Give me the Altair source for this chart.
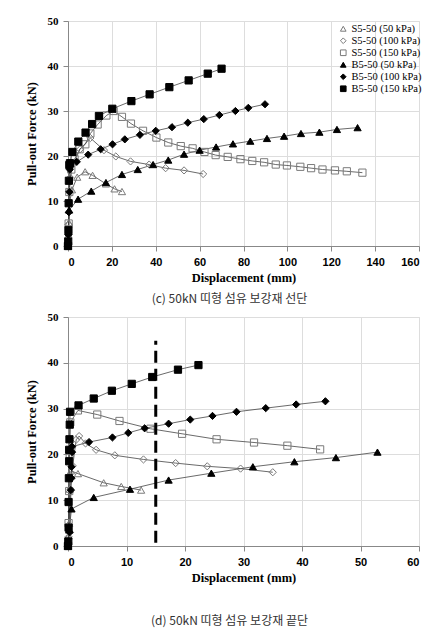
import altair as alt
import pandas as pd

SERIES = ["S5-50 (50 kPa)", "S5-50 (100 kPa)", "S5-50 (150 kPa)",
          "B5-50 (50 kPa)", "B5-50 (100 kPa)", "B5-50 (150 kPa)"]
SHAPES = ["triangle-up", "diamond", "square", "triangle-up", "diamond", "square"]
FILLS = ["transparent", "transparent", "transparent", "black", "black", "black"]
STROKES = ["#7a7a7a", "#7a7a7a", "#7a7a7a", "black", "black", "black"]

# ---- panel (c) ----
c_s50_x = [0, 0.2, 0.4, 0.8, 1.8, 4.2, 7.8, 11.2, 17.3, 21.2, 24.6]
c_s50_y = [0, 2.5, 5.2, 9.8, 12.5, 15.3, 16.5, 15.7, 13.8, 12.7, 12.1]
c_s100_x = [0, 0.2, 0.5, 1.0, 2.5, 5.5, 10.2, 16.4, 21.8, 28.5, 37.0, 44.5, 52.9, 61.6]
c_s100_y = [0, 4.8, 12.2, 15.2, 18.3, 21.5, 24.0, 21.3, 19.9, 18.8, 18.1, 17.3, 16.8, 16.0]
c_s150_x = [0, 0.3, 0.6, 1.5, 3.0, 5.3, 7.9, 10.2, 13.5, 17.5, 20.8, 24.6, 28.7, 34.2, 40.3,
            45.7, 51.4, 56.8, 62.2, 67.3, 72.8, 78.6, 84.0, 89.4, 94.7, 99.8, 105.9, 110.8,
            116.0, 121.7, 127.1, 134.2]
c_s150_y = [0, 5, 12, 17, 19.3, 21.5, 22.6, 25.0, 27.0, 29.0, 30.0, 28.7, 27.2, 25.6, 24.1,
            23.0, 22.2, 21.7, 20.9, 20.2, 19.8, 19.3, 18.9, 18.6, 18.1, 17.9, 17.6, 17.3,
            17.0, 16.8, 16.6, 16.3]
c_b50_x = [0, 0.2, 0.5, 4.6, 10.6, 17.3, 24.6, 31.8, 38.8, 45.7, 52.9, 60.0, 67.5, 75.2,
           83.1, 90.7, 98.5, 106.2, 114.6, 122.6, 132.0]
c_b50_y = [0, 3.2, 8.0, 10.4, 12.2, 14.1, 15.9, 17.0, 18.1, 19.1, 20.4, 21.3, 22.0, 22.7,
           23.3, 23.9, 24.4, 25.0, 25.3, 25.9, 26.3]
c_b100_x = [0, 0.2, 0.4, 0.6, 0.8, 4.0, 9.2, 14.9, 20.3, 25.9, 32.8, 40.0, 47.4, 54.6,
            61.9, 69.0, 76.3, 82.2, 89.8]
c_b100_y = [0, 2.5, 7.5, 12.0, 17.0, 18.7, 20.3, 21.5, 22.6, 23.7, 24.7, 25.6, 26.4, 27.4,
            28.2, 29.1, 30.0, 30.7, 31.5]
c_b150_x = [0, 0.1, 0.2, 0.3, 0.4, 0.6, 0.9, 2.0, 4.7, 8.0, 11.0, 14.1, 20.2, 28.9, 37.2,
            46.2, 55.0, 63.7, 70.0]
c_b150_y = [0, 1.0, 3.5, 9.5, 14.5, 18.0, 18.4, 20.9, 23.2, 25.2, 27.1, 28.9, 30.5, 32.2,
            33.7, 35.3, 36.8, 38.3, 39.4]

# ---- panel (d) ----
d_s50_x = [0, 0.1, 0.2, 0.3, 0.5, 1.7, 6.1, 9.1, 12.5]
d_s50_y = [0, 2.2, 5.0, 12.4, 16.4, 15.8, 13.8, 13.0, 12.2]
d_s100_x = [0, 0.1, 0.2, 0.4, 0.8, 1.4, 1.9, 3.0, 4.8, 8.0, 12.9, 18.4, 23.8, 29.5, 35.0]
d_s100_y = [0, 2.0, 4.6, 12.4, 17.5, 23.2, 24.0, 22.4, 21.0, 19.8, 18.9, 18.1, 17.4, 16.9, 16.1]
d_s150_x = [0, 0.1, 0.2, 0.3, 0.4, 1.7, 5.0, 8.8, 14.1, 19.5, 25.4, 31.8, 37.5, 43.1]
d_s150_y = [0, 5, 12, 20, 27, 29.6, 28.7, 27.3, 25.6, 24.5, 23.3, 22.6, 21.9, 21.1]
d_b50_x = [0, 0.2, 0.6, 4.4, 10.6, 17.2, 24.5, 31.6, 38.7, 45.8, 52.9]
d_b50_y = [0, 3.5, 8.1, 10.6, 12.4, 14.4, 15.9, 17.3, 18.4, 19.3, 20.5]
d_b100_x = [0, 0.3, 0.5, 0.6, 0.6, 0.7, 0.7, 3.6, 7.6, 10.3, 13.1, 17.2, 20.9, 24.7, 28.8,
            33.8, 39.0, 44.0]
d_b100_y = [0, 3.0, 12.2, 14.8, 17.3, 20.5, 21.7, 22.7, 23.7, 24.7, 25.7, 26.7, 27.6, 28.4,
            29.3, 30.1, 30.9, 31.6]
d_b150_x = [0, 0.05, 0.1, 0.1, 0.15, 0.2, 0.2, 0.25, 0.3, 0.35, 1.8, 4.4, 7.5, 10.9, 14.4,
            18.8, 22.3]
d_b150_y = [0, 1, 4, 9.6, 14.8, 18.5, 21, 23.3, 26.5, 29.3, 30.7, 32.2, 33.9, 35.4, 36.9,
            38.5, 39.5]

# dashed reference line in panel (d)
vline_x = [15]
vline_y = [0.7]
vline_y2 = [44.8]

c_ticks = [0, 20, 40, 60, 80, 100, 120, 140, 160]
d_ticks = [0, 10, 20, 30, 40, 50, 60]
y_ticks = [0, 10, 20, 30, 40, 50]

panel_c = [(c_s50_x, c_s50_y), (c_s100_x, c_s100_y), (c_s150_x, c_s150_y),
           (c_b50_x, c_b50_y), (c_b100_x, c_b100_y), (c_b150_x, c_b150_y)]
panel_d = [(d_s50_x, d_s50_y), (d_s100_x, d_s100_y), (d_s150_x, d_s150_y),
           (d_b50_x, d_b50_y), (d_b100_x, d_b100_y), (d_b150_x, d_b150_y)]

SERIF = "Liberation Serif"
SANS = "Liberation Sans"


def to_df(panel):
    rows = []
    for name, (xs, ys) in zip(SERIES, panel):
        for i, (xv, yv) in enumerate(zip(xs, ys)):
            rows.append({"series": name, "x": xv, "y": yv, "i": i})
    return pd.DataFrame(rows)


def make_panel(df, xmax, xticks, caption, lx, ly, row_pad, cap_offset, h, extra=None):
    xenc = alt.X("x:Q", scale=alt.Scale(domain=[0, xmax], nice=False),
                 axis=alt.Axis(values=xticks, title="Displacement (mm)",
                               labelFont=SANS, labelFontWeight="bold",
                               labelFontSize=11, labelPadding=5, titlePadding=4,
                               titleFont=SERIF, titleFontWeight="bold", titleFontSize=12.5,
                               titleColor="black", labelColor="black"))
    yenc = alt.Y("y:Q", scale=alt.Scale(domain=[0, 50], nice=False),
                 axis=alt.Axis(values=y_ticks, title="Pull-out Force (kN)",
                               labelFont=SERIF, labelFontWeight="bold",
                               labelFontSize=11, labelPadding=5, titlePadding=9,
                               titleFont=SERIF, titleFontWeight="bold", titleFontSize=12.5,
                               titleColor="black", labelColor="black"))
    leg = alt.Legend(title=None, orient="none", legendX=lx, legendY=ly,
                     labelFont=SERIF, labelFontSize=10.5,
                     labelColor="black", symbolSize=32, symbolStrokeWidth=1,
                     rowPadding=row_pad, labelOffset=3, padding=0)
    lines = alt.Chart(df).mark_line(color="#444", strokeWidth=0.8).encode(
        x=xenc, y=yenc, detail="series:N", order="i:Q")
    pts = alt.Chart(df).mark_point(size=52, strokeWidth=1, opacity=1, filled=True).encode(
        x=xenc, y=yenc,
        shape=alt.Shape("series:N", scale=alt.Scale(domain=SERIES, range=SHAPES), legend=leg),
        fill=alt.Fill("series:N", scale=alt.Scale(domain=SERIES, range=FILLS), legend=leg),
        stroke=alt.Stroke("series:N", scale=alt.Scale(domain=SERIES, range=STROKES), legend=leg),
    )
    layers = [lines, pts]
    if extra is not None:
        layers.append(extra)
    return alt.layer(*layers).properties(
        width=351, height=h,
        title=alt.TitleParams(caption, orient="bottom", anchor="middle",
                              font="Noto Sans CJK KR", fontSize=12, fontWeight="normal",
                              color="#333", offset=cap_offset, dx=-14),
    )


df_c = to_df(panel_c)
df_d = to_df(panel_d)

vdf = pd.DataFrame({"x": vline_x, "y": vline_y, "y2": vline_y2})
vrule = alt.Chart(vdf).mark_rule(color="black", strokeWidth=3, strokeDash=[12, 6]).encode(
    x="x:Q", y="y:Q", y2="y2:Q")

top = make_panel(df_c, 160, c_ticks, "(c) 50kN 띠형 섬유 보강재 선단", 270, 2.5, 1, 10, 225)
bottom = make_panel(df_d, 60, d_ticks, "(d) 50kN 띠형 섬유 보강재 끝단", 271, 144, 2.2, 32, 229,
                    extra=vrule)

chart = alt.vconcat(top, bottom, spacing=5).properties(
    padding={"left": 16, "top": 6, "right": 5, "bottom": 5}
).configure_view(stroke="#a0a0a0", strokeWidth=1).configure_axis(
    grid=False, domainColor="#a0a0a0", tickColor="#a0a0a0", tickSize=3,
).configure(background="white")

chart.save("out.html", embed_options={"renderer": "svg", "actions": False})
